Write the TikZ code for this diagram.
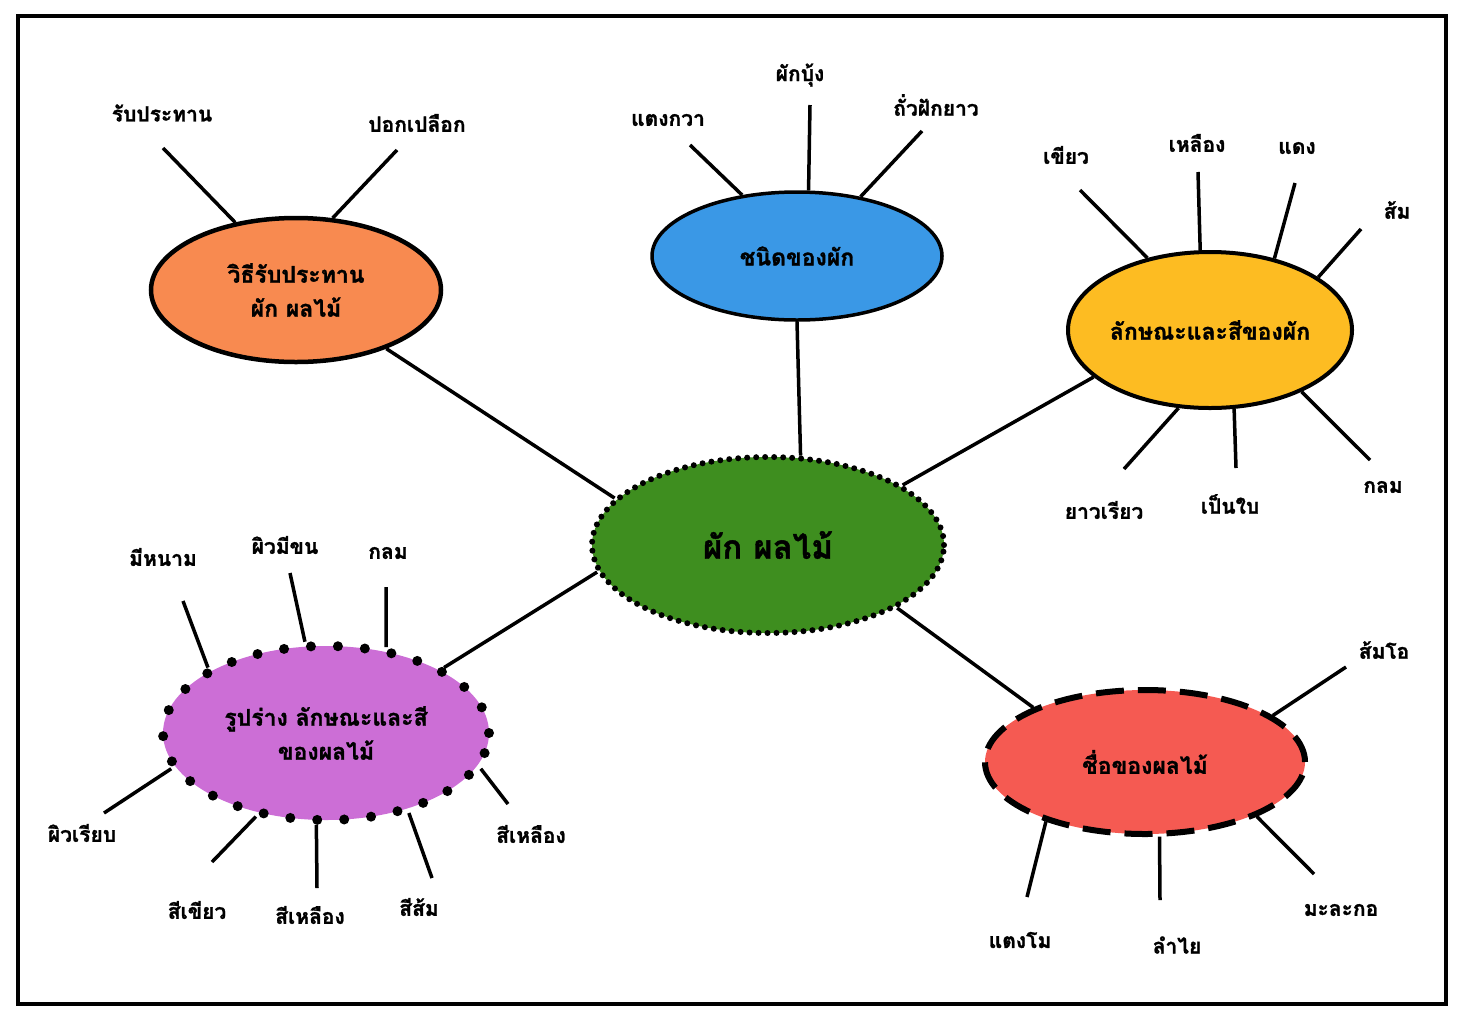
\documentclass[tikz,border=0pt]{standalone}
\usepackage{fontspec}
\newfontfamily\thaifont[Script=Thai,BoldFeatures={FakeBold=1.3}]{Loma}
\usetikzlibrary{shapes.geometric}
\definecolor{corange}{HTML}{F88A50}
\definecolor{cblue}{HTML}{3A98E6}
\definecolor{cyellow}{HTML}{FDBC22}
\definecolor{cgreen}{HTML}{3E8E1F}
\definecolor{cpurple}{HTML}{CC6ED6}
\definecolor{cred}{HTML}{F55A52}
\tikzset{
  bubble/.style={ellipse, inner sep=-15pt, align=center,
    font=\thaifont\bfseries\fontsize{23}{34}\selectfont},
  lbl/.style={inner sep=0pt, font=\thaifont\bfseries\fontsize{21}{24}\selectfont},
  spoke/.style={line width=3.5pt},
  link/.style={line width=3.5pt}
}
\begin{document}
\begin{tikzpicture}[x=1pt,y=-1pt]
\useasboundingbox (0,0) rectangle (1463,1010);
\draw[line width=4pt] (18,16) rectangle (1446,1004);

% central
\node[bubble, draw, fill=cgreen, line width=6pt, line cap=round, dash pattern=on 0pt off 9pt,
  minimum width=352pt, minimum height=176pt,
  font=\thaifont\bfseries\fontsize{33}{36}\selectfont] (main) at (768,545) {ผัก ผลไม้};

% satellites
\node[bubble, draw, fill=corange, line width=4.5pt, minimum width=290pt, minimum height=144pt]
  (eat) at (296,290) {วิธีรับประทาน\\ผัก ผลไม้};
\node[bubble, draw, fill=cblue, line width=3.5pt, minimum width=290pt, minimum height=128pt]
  (veg) at (797,256) {ชนิดของผัก};
\node[bubble, draw, fill=cyellow, line width=4pt, minimum width=284pt, minimum height=156pt]
  (vcol) at (1210,330) {ลักษณะและสีของผัก};
\node[bubble, draw, fill=cpurple, line width=10pt, line cap=round, dash pattern=on 0pt off 27pt,
  minimum width=326pt, minimum height=174pt]
  (fshape) at (326,733) {รูปร่าง ลักษณะและสี\\ของผลไม้};
\node[bubble, draw, fill=cred, line width=6pt, dash pattern=on 28pt off 14pt,
  minimum width=320pt, minimum height=144pt]
  (fname) at (1145,762) {ชื่อของผลไม้};

% links to centre
\draw[link] (eat.327.3) -- (main.163.6);
\draw[link] (veg.270) -- (main.70);
\draw[link] (vcol.202.2) -- (main.24.7);
\draw[link] (fshape.29) -- (main.189);
\draw[link] (fname.154.5) -- (main.334.7);

% orange spokes
\coordinate (e1) at (163,148); \node[lbl] (le1) at (162,113) {รับประทาน};
\coordinate (e2) at (397,150); \node[lbl] (le2) at (417,123) {ปอกเปลือก};
\draw[spoke] (eat.132.5) -- (e1);
\draw[spoke] (eat.63.4) -- (e2);

% blue spokes
\coordinate (v1) at (690,145); \node[lbl] (lv1) at (668,120) {แตงกวา};
\coordinate (v2) at (810,105); \node[lbl] (lv2) at (800,75) {ผักบุ้ง};
\coordinate (v3) at (922,131); \node[lbl] (lv3) at (936,105) {ถั่วฝักยาว};
\draw[spoke] (veg.132) -- (v1);
\draw[spoke] (veg.80) -- (v2);
\draw[spoke] (veg.43.8) -- (v3);

% yellow spokes
\coordinate (y1) at (1080,190); \node[lbl] (ly1) at (1066,155) {เขียว};
\coordinate (y2) at (1198,172); \node[lbl] (ly2) at (1197,143) {เหลือง};
\coordinate (y3) at (1295,183); \node[lbl] (ly3) at (1297,148) {แดง};
\coordinate (y4) at (1361,229); \node[lbl] (ly4) at (1397,210) {ส้ม};
\coordinate (y5) at (1124,469); \node[lbl] (ly5) at (1104,510) {ยาวเรียว};
\coordinate (y6) at (1236,468); \node[lbl] (ly6) at (1230,504) {เป็นใบ};
\coordinate (y7) at (1370,460); \node[lbl] (ly7) at (1383,487) {กลม};
\draw[spoke] (vcol.131.8) -- (y1);
\draw[spoke] (vcol.97) -- (y2);
\draw[spoke] (vcol.48.6) -- (y3);
\draw[spoke] (vcol.26.8) -- (y4);
\draw[spoke] (vcol.248.3) -- (y5);
\draw[spoke] (vcol.287.6) -- (y6);
\draw[spoke] (vcol.326.7) -- (y7);

% purple spokes
\coordinate (p1) at (183,601); \node[lbl] (lp1) at (163,557) {มีหนาม};
\coordinate (p2) at (290,573); \node[lbl] (lp2) at (285,545) {ผิวมีขน};
\coordinate (p3) at (386,587); \node[lbl] (lp3) at (388,553) {กลม};
\coordinate (p4) at (104,813); \node[lbl] (lp4) at (82,833) {ผิวเรียบ};
\coordinate (p5) at (212,862); \node[lbl] (lp5) at (197,910) {สีเขียว};
\coordinate (p6) at (317,888); \node[lbl] (lp6) at (310,915) {สีเหลือง};
\coordinate (p7) at (432,878); \node[lbl] (lp7) at (419,907) {สีส้ม};
\coordinate (p8) at (508,804); \node[lbl] (lp8) at (531,834) {สีเหลือง};
\draw[spoke] (fshape.151.4) -- (p1);
\draw[spoke] (fshape.103.9) -- (p2);
\draw[spoke] (fshape.55.9) -- (p3);
\draw[spoke] (fshape.193.2) -- (p4);
\draw[spoke] (fshape.230.3) -- (p5);
\draw[spoke] (fshape.264.9) -- (p6);
\draw[spoke] (fshape.316) -- (p7);
\draw[spoke] (fshape.347) -- (p8);

% red spokes
\coordinate (r1) at (1346,667); \node[lbl] (lr1) at (1384,650) {ส้มโอ};
\coordinate (r2) at (1027,897); \node[lbl] (lr2) at (1020,940) {แตงโม};
\coordinate (r3) at (1160,900); \node[lbl] (lr3) at (1177,945) {ลำไย};
\coordinate (r4) at (1314,874); \node[lbl] (lr4) at (1341,910) {มะละกอ};
\draw[spoke] (fname.20.6) -- (r1);
\draw[spoke] (fname.211.4) -- (r2);
\draw[spoke] (fname.281.6) -- (r3);
\draw[spoke] (fname.334.8) -- (r4);
\end{tikzpicture}
\end{document}
